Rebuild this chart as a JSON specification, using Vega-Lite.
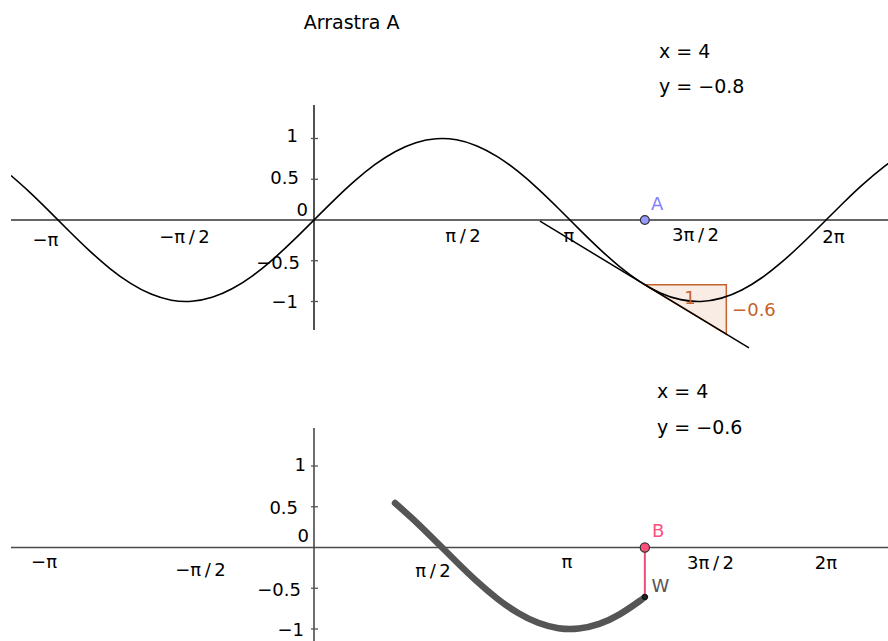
{
  "$schema": "https://vega.github.io/schema/vega-lite/v6.json",
  "padding": {"left": 10, "top": 0, "right": 0, "bottom": 0},
  "background": "white",
  "spacing": 0,
  "config": {"view": {"stroke": null}, "text": {"font": "DejaVu Sans"}},
  "datasets": {
    "sinCurve": [
      {"x": -3.718, "y": 0.5452}, {"x": -3.5, "y": 0.3508}, {"x": -3.25, "y": 0.1082}, {"x": -3.0, "y": -0.1411},
      {"x": -2.75, "y": -0.3817}, {"x": -2.5, "y": -0.5985}, {"x": -2.25, "y": -0.7781}, {"x": -2.0, "y": -0.9093},
      {"x": -1.75, "y": -0.984}, {"x": -1.5, "y": -0.9975}, {"x": -1.25, "y": -0.949}, {"x": -1.0, "y": -0.8415},
      {"x": -0.75, "y": -0.6816}, {"x": -0.5, "y": -0.4794}, {"x": -0.25, "y": -0.2474}, {"x": 0.0, "y": 0.0},
      {"x": 0.25, "y": 0.2474}, {"x": 0.5, "y": 0.4794}, {"x": 0.75, "y": 0.6816}, {"x": 1.0, "y": 0.8415},
      {"x": 1.25, "y": 0.949}, {"x": 1.5, "y": 0.9975}, {"x": 1.75, "y": 0.984}, {"x": 2.0, "y": 0.9093},
      {"x": 2.25, "y": 0.7781}, {"x": 2.5, "y": 0.5985}, {"x": 2.75, "y": 0.3817}, {"x": 3.0, "y": 0.1411},
      {"x": 3.25, "y": -0.1082}, {"x": 3.5, "y": -0.3508}, {"x": 3.75, "y": -0.5716}, {"x": 4.0, "y": -0.7568},
      {"x": 4.25, "y": -0.895}, {"x": 4.5, "y": -0.9775}, {"x": 4.75, "y": -0.9993}, {"x": 5.0, "y": -0.9589},
      {"x": 5.25, "y": -0.8589}, {"x": 5.5, "y": -0.7055}, {"x": 5.75, "y": -0.5083}, {"x": 6.0, "y": -0.2794},
      {"x": 6.25, "y": -0.0332}, {"x": 6.5, "y": 0.2151}, {"x": 6.75, "y": 0.45}, {"x": 7.0, "y": 0.657},
      {"x": 7.06, "y": 0.7011}
    ],
    "tangent": [{"x": 2.773, "y": -0.0134}, {"x": 5.338, "y": -1.5703}],
    "slopeTri": [{"x": 4.06, "y": -0.7946, "y2": -0.7946}, {"x": 5.06, "y": -1.4016, "y2": -0.7946}],
    "axesTop": [{"x": -3.7182, "x2": 7.0561, "y": 0, "y2": 0}, {"x": 0, "x2": 0, "y": -1.35, "y2": 1.411}],
    "axesBottom": [{"x": -3.7182, "x2": 7.0561, "y": 0, "y2": 0}, {"x": 0, "x2": 0, "y": -1.1474, "y2": 1.466}],
    "ticks": [{"x": -0.037, "x2": 0.049, "y": 1}, {"x": -0.037, "x2": 0.049, "y": 0.5}, {"x": -0.037, "x2": 0.049, "y": -0.5}, {"x": -0.037, "x2": 0.049, "y": -1}],
    "yLabelsTop": [
      {"x": -0.196, "y": 1.019, "t": "1"}, {"x": -0.184, "y": 0.509, "t": "0.5"}, {"x": -0.074, "y": 0.11, "t": "0"},
      {"x": -0.172, "y": -0.54, "t": "−0.5"}, {"x": -0.196, "y": -1.019, "t": "−1"}
    ],
    "xLabelsTop": [
      {"x": -3.295, "y": -0.258, "t": "−π"}, {"x": -1.589, "y": -0.221, "t": "−π\u2009/\u20092"}, {"x": 1.828, "y": -0.209, "t": "π\u2009/\u20092"},
      {"x": 3.129, "y": -0.209, "t": "π"}, {"x": 4.682, "y": -0.196, "t": "3π\u2009/\u20092"}, {"x": 6.375, "y": -0.215, "t": "2π"}
    ],
    "yLabelsBottom": [
      {"x": -0.098, "y": 1.0, "t": "1"}, {"x": -0.196, "y": 0.472, "t": "0.5"}, {"x": -0.061, "y": 0.123, "t": "0"},
      {"x": -0.16, "y": -0.534, "t": "−0.5"}, {"x": -0.123, "y": -1.025, "t": "−1"}
    ],
    "xLabelsBottom": [
      {"x": -3.313, "y": -0.19, "t": "−π"}, {"x": -1.393, "y": -0.288, "t": "−π\u2009/\u20092"}, {"x": 1.46, "y": -0.301, "t": "π\u2009/\u20092"},
      {"x": 3.105, "y": -0.19, "t": "π"}, {"x": 4.866, "y": -0.202, "t": "3π\u2009/\u20092"}, {"x": 6.283, "y": -0.202, "t": "2π"}
    ],
    "textsTop": [{"x": -0.126, "y": 2.34, "t": "Arrastra A"}, {"x": 4.234, "y": 1.988, "t": "x = 4"}, {"x": 4.234, "y": 1.555, "t": "y = −0.8"}],
    "textsBottom": [{"x": 4.209, "y": 1.837, "t": "x = 4"}, {"x": 4.209, "y": 1.395, "t": "y = −0.6"}],
    "pointA": [{"x": 4.06, "y": 0}],
    "labelA": [{"x": 4.136, "y": 0.123, "t": "A"}],
    "slopeLabels": [{"x": 4.614, "y": -0.969, "t": "1"}, {"x": 5.399, "y": -1.111, "t": "−0.6"}],
    "cosTrace": [
      {"x": 0.994, "y": 0.5453}, {"x": 1.25, "y": 0.3153}, {"x": 1.5, "y": 0.0707}, {"x": 1.75, "y": -0.1782},
      {"x": 2.0, "y": -0.4161}, {"x": 2.25, "y": -0.6282}, {"x": 2.5, "y": -0.8011}, {"x": 2.75, "y": -0.9243},
      {"x": 3.0, "y": -0.99}, {"x": 3.25, "y": -0.9941}, {"x": 3.5, "y": -0.9365}, {"x": 3.75, "y": -0.8206},
      {"x": 4.0, "y": -0.6536}, {"x": 4.06, "y": -0.607}
    ],
    "segBW": [{"x": 4.06, "y": 0, "y2": -0.607}],
    "pointB": [{"x": 4.06, "y": 0}],
    "pointW": [{"x": 4.06, "y": -0.607}],
    "labelB": [{"x": 4.148, "y": 0.125, "t": "B"}],
    "labelW": [{"x": 4.142, "y": -0.542, "t": "W"}]
  },
  "vconcat": [
    {
      "width": 878,
      "height": 360,
      "encoding": {
        "x": {"field": "x", "type": "quantitative", "scale": {"domain": [-3.7182, 7.0561], "nice": false, "zero": false}, "axis": null},
        "y": {"field": "y", "type": "quantitative", "scale": {"domain": [-1.718, 2.6997], "nice": false, "zero": false}, "axis": null}
      },
      "layer": [
        {
          "data": {"name": "slopeTri"},
          "mark": {"type": "area", "fill": "#f8ece4", "stroke": "#c4622d", "strokeWidth": 1.5},
          "encoding": {"y2": {"field": "y2"}}
        },
        {
          "data": {"name": "axesTop"},
          "mark": {"type": "rule", "color": "#333", "strokeWidth": 1.7},
          "encoding": {"x2": {"field": "x2"}, "y2": {"field": "y2"}}
        },
        {
          "data": {"name": "ticks"},
          "mark": {"type": "rule", "color": "#555", "strokeWidth": 1.3},
          "encoding": {"x2": {"field": "x2"}}
        },
        {
          "data": {"name": "sinCurve"},
          "mark": {"type": "line", "color": "#000", "strokeWidth": 1.6, "interpolate": "natural", "clip": true},
          "encoding": {}
        },
        {
          "data": {"name": "tangent"},
          "mark": {"type": "line", "color": "#000", "strokeWidth": 1.5, "clip": true},
          "encoding": {}
        },
        {
          "data": {"name": "yLabelsTop"},
          "mark": {"type": "text", "align": "right", "baseline": "middle", "fontSize": 18, "color": "#000"},
          "encoding": {"text": {"field": "t"}}
        },
        {
          "data": {"name": "xLabelsTop"},
          "mark": {"type": "text", "align": "center", "baseline": "middle", "fontSize": 18, "color": "#000"},
          "encoding": {"text": {"field": "t"}}
        },
        {
          "data": {"name": "textsTop"},
          "mark": {"type": "text", "align": "left", "baseline": "alphabetic", "fontSize": 19, "color": "#000"},
          "encoding": {"text": {"field": "t"}}
        },
        {
          "data": {"name": "slopeLabels"},
          "mark": {"type": "text", "align": "center", "baseline": "middle", "fontSize": 18, "color": "#c4622d"},
          "encoding": {"text": {"field": "t"}}
        },
        {
          "data": {"name": "pointA"},
          "mark": {"type": "point", "shape": "circle", "filled": true, "fill": "#9999ff", "stroke": "#333", "strokeWidth": 1.2, "size": 80, "opacity": 1},
          "encoding": {}
        },
        {
          "data": {"name": "labelA"},
          "mark": {"type": "text", "align": "left", "baseline": "alphabetic", "fontSize": 18, "color": "#8282ff"},
          "encoding": {"text": {"field": "t"}}
        }
      ]
    },
    {
      "width": 878,
      "height": 281,
      "encoding": {
        "x": {"field": "x", "type": "quantitative", "scale": {"domain": [-3.7182, 7.0561], "nice": false, "zero": false}, "axis": null},
        "y": {"field": "y", "type": "quantitative", "scale": {"domain": [-1.1474, 2.3009], "nice": false, "zero": false}, "axis": null}
      },
      "layer": [
        {
          "data": {"name": "axesBottom"},
          "mark": {"type": "rule", "color": "#4a4a4a", "strokeWidth": 1.6},
          "encoding": {"x2": {"field": "x2"}, "y2": {"field": "y2"}}
        },
        {
          "data": {"name": "ticks"},
          "mark": {"type": "rule", "color": "#555", "strokeWidth": 1.3},
          "encoding": {"x2": {"field": "x2"}}
        },
        {
          "data": {"name": "yLabelsBottom"},
          "mark": {"type": "text", "align": "right", "baseline": "middle", "fontSize": 18, "color": "#000"},
          "encoding": {"text": {"field": "t"}}
        },
        {
          "data": {"name": "xLabelsBottom"},
          "mark": {"type": "text", "align": "center", "baseline": "middle", "fontSize": 18, "color": "#000"},
          "encoding": {"text": {"field": "t"}}
        },
        {
          "data": {"name": "textsBottom"},
          "mark": {"type": "text", "align": "left", "baseline": "alphabetic", "fontSize": 19, "color": "#000"},
          "encoding": {"text": {"field": "t"}}
        },
        {
          "data": {"name": "cosTrace"},
          "mark": {"type": "line", "color": "#555", "strokeWidth": 6.5, "strokeCap": "round", "strokeJoin": "round", "interpolate": "natural", "clip": true},
          "encoding": {}
        },
        {
          "data": {"name": "segBW"},
          "mark": {"type": "rule", "color": "#ee4d7a", "strokeWidth": 2},
          "encoding": {"y2": {"field": "y2"}}
        },
        {
          "data": {"name": "pointB"},
          "mark": {"type": "point", "shape": "circle", "filled": true, "fill": "#ff4f7d", "stroke": "#333", "strokeWidth": 1.2, "size": 85, "opacity": 1},
          "encoding": {}
        },
        {
          "data": {"name": "pointW"},
          "mark": {"type": "point", "shape": "circle", "filled": true, "fill": "#222", "stroke": "#000", "strokeWidth": 0.8, "size": 28, "opacity": 1},
          "encoding": {}
        },
        {
          "data": {"name": "labelB"},
          "mark": {"type": "text", "align": "left", "baseline": "alphabetic", "fontSize": 18, "color": "#ff4f7d"},
          "encoding": {"text": {"field": "t"}}
        },
        {
          "data": {"name": "labelW"},
          "mark": {"type": "text", "align": "left", "baseline": "alphabetic", "fontSize": 18, "color": "#555"},
          "encoding": {"text": {"field": "t"}}
        }
      ]
    }
  ]
}
